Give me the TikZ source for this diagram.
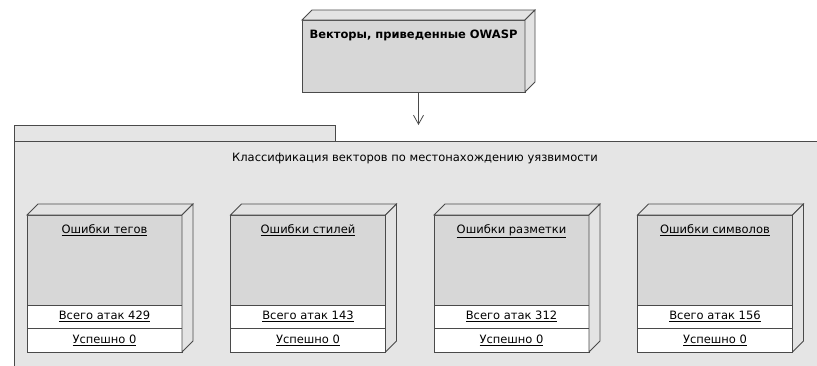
\documentclass[tikz,border=0pt]{standalone}
\usepackage{fontspec}
\setmainfont{DejaVu Sans}
\usetikzlibrary{positioning,arrows.meta}
\definecolor{pkggray}{HTML}{E5E5E5}
\definecolor{boxgray}{HTML}{D7D7D7}
\definecolor{sidegray}{HTML}{E3E3E3}
\definecolor{edgegray}{HTML}{4A4A4A}
\tikzset{
  face/.style={draw=edgegray, line width=0.8pt},
  errbox/.style={face, fill=boxgray, minimum width=155pt, minimum height=90pt,
                 inner sep=0pt, outer sep=0pt},
  cntbox/.style={face, fill=white, minimum width=155pt, inner sep=0pt, outer sep=0pt,
                 font=\fontsize{11.5}{13}\selectfont},
  lbl/.style={font=\fontsize{11.5}{13}\selectfont}
}

\begin{document}
\begin{tikzpicture}[x=1pt,y=-1pt]
    \useasboundingbox (0,0) rectangle (817,365);
    \clip (0,0) rectangle (817,365);
    % package frame
    \node[face, fill=pkggray, anchor=north west, minimum width=321pt, minimum height=16pt,
          inner sep=0pt, outer sep=0pt] (tab) at (14,125) {};
    \node[face, fill=pkggray, anchor=north west, minimum width=820pt, minimum height=240pt,
          inner sep=0pt, outer sep=0pt] (pkg) at (14,141) {};
    \node[lbl] (pkgtitle) at (415,158) {Классификация векторов по местонахождению уязвимости};

    % top node
    \node[face, fill=boxgray, minimum width=223pt, minimum height=72pt, anchor=north west,
          inner sep=0pt, outer sep=0pt,
          label={[anchor=north, yshift=-6pt, font=\fontsize{11.5}{13}\selectfont\bfseries]north:Векторы, приведенные OWASP}]
          (owasp) at (302,20) {};
    \draw[face, fill=sidegray] (owasp.north west) -- ++(10,-10) -- ([shift={(10,-10)}]owasp.north east)
          -- (owasp.north east) -- cycle;
    \draw[face, fill=sidegray] (owasp.north east) -- ++(10,-10) -- ([shift={(10,-10)}]owasp.south east)
          -- (owasp.south east) -- cycle;
    \coordinate (owaspfoot) at ([xshift=5pt]owasp.south);
    \draw[face, -{Straight Barb[length=9pt,width=10pt]}] (owaspfoot) -- (owaspfoot |- tab.north);

    % error classes
    \foreach \name/\tot [count=\i] in {тегов/429, стилей/143, разметки/312, символов/156}
    {
    \node[errbox, label={[lbl, anchor=north, yshift=-6pt]north:\underline{Ошибки \name}}]
          (err\i) at ({104.5+(\i-1)*203.5},260) {};
    \node[cntbox, minimum height=23pt, below=0pt of err\i] (tot\i) {\underline{Всего атак \tot}};
    \node[cntbox, minimum height=24pt, below=0pt of tot\i] (ok\i) {\underline{Успешно 0}};
    \draw[face, fill=sidegray] (err\i.north west) -- ++(11,-11) -- ([shift={(11,-11)}]err\i.north east)
          -- (err\i.north east) -- cycle;
    \draw[face, fill=sidegray] (err\i.north east) -- ++(11,-11) -- ([shift={(11,-11)}]ok\i.south east)
          -- (ok\i.south east) -- cycle;
    }
\end{tikzpicture}
\end{document}
